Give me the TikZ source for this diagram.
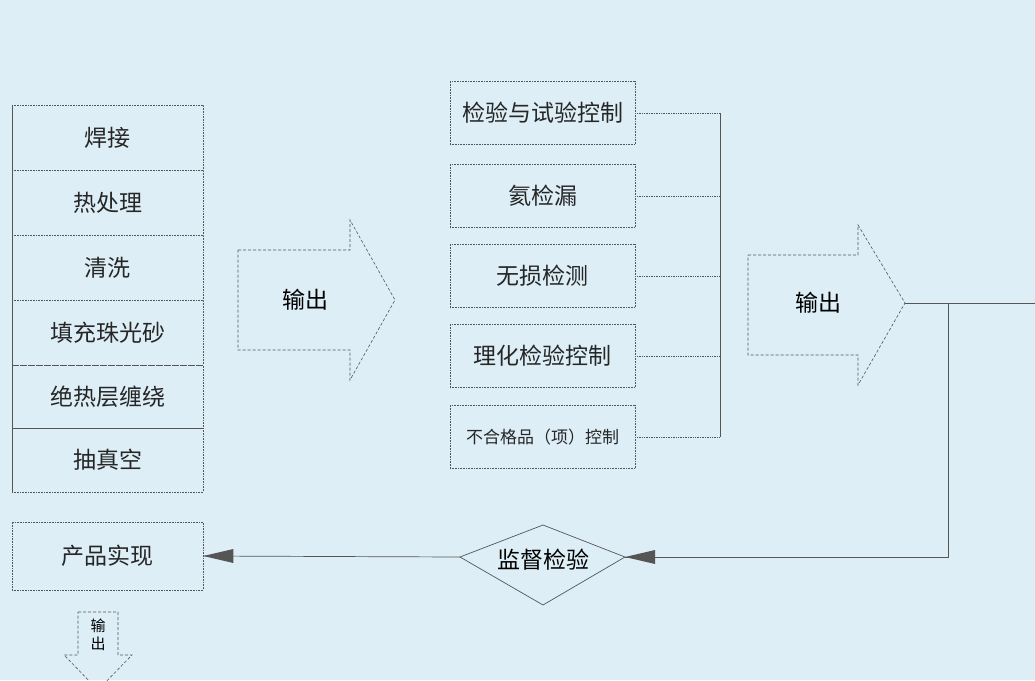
\documentclass[tikz,border=0pt]{standalone}
\usepackage{fontspec}
\setmainfont{Noto Sans CJK SC}
\usetikzlibrary{arrows.meta}
\definecolor{bg}{HTML}{DDEEF6}
\definecolor{ln}{HTML}{555555}
\begin{document}
\begin{tikzpicture}[x=1pt,y=-1pt,
 box/.style={draw=ln,densely dotted,line width=0.6pt,minimum width=#1,inner sep=0pt,font=\fontsize{23}{24}\selectfont,text=black!85},
 box/.default=191pt,
 con/.style={draw=ln,line width=0.7pt},
 blk/.style={draw=ln,line width=0.6pt,densely dashed}]
\fill[bg] (0,0) rectangle (1035,680);
\useasboundingbox (0,0) rectangle (1035,680);
% left stack
\foreach \t/\a/\b [count=\i] in {焊接/105/170,热处理/170/235,清洗/235/300,填充珠光砂/300/365,绝热层缠绕/365/428,抽真空/428/492}{
  \node[box,minimum height=\b-\a] (L\i) at (107.5,{(\a+\b)/2}) {\t};}
\draw[con] (12,105) coordinate (lt) -- (12,492) coordinate (lb);
% arrow 1
\draw[blk] (238,250) -- (350,250) -- (350,220) -- (395,300) -- (350,380) -- (350,350) -- (238,350) -- cycle;
\node[font=\fontsize{23}{24}\selectfont] (o1) at (305,300) {输出};
% middle column
\foreach \t/\y/\f [count=\i] in {检验与试验控制/113/23,氦检漏/196/23,无损检测/276/23,理化检验控制/356/23,不合格品（项）控制/437/17}{
  \node[box=185pt,minimum height=63pt,font=\fontsize{\f}{24}\selectfont] (M\i) at (542.5,\y) {\t};}
\coordinate (bt) at (720,113); \coordinate (bb) at (720,437);
\draw[con] (bt) -- (bb);
\foreach \i in {1,...,5}{\draw[con,densely dotted] (M\i.east) -- (M\i.east -| bt);}
% arrow 2
\draw[blk] (748,255) -- (858,255) -- (858,225) -- (905,303) -- (858,385) -- (858,355) -- (748,355) -- cycle;
\node[font=\fontsize{23}{24}\selectfont] (o2) at (818,303) {输出};
\coordinate (tip) at (905,303);
\coordinate (re) at (1035,303);
\coordinate (c1) at (948,303);
\coordinate (c2) at (948,557);
\draw[con] (tip) -- (re);
% diamond
\draw[con] (460,557) coordinate (dl) -- (543,525) -- (625,557) coordinate (dr) -- (543,605) -- cycle;
\node[font=\fontsize{23}{24}\selectfont] (D) at (543,560) {监督检验};
\node[box,minimum height=68pt] (P) at (107.5,556) {产品实现};
\draw[con] (c1) -- (c2) -- (dr);
\fill[ln] (dr) -- ++(30,-7) -- ++(0,14) -- cycle;
\draw[con] (dl) -- (P.east);
\fill[ln] (P.east) -- ++(30,-7) -- ++(0,14) -- cycle;
% small down arrow
\draw[blk] (78,612) -- (118,612) -- (118,655) -- (132,655) -- (98,690) -- (64,655) -- (78,655) -- cycle;
\node[font=\fontsize{15}{18}\selectfont,align=center] (o3) at (98,635) {输\\出};
\end{tikzpicture}
\end{document}
